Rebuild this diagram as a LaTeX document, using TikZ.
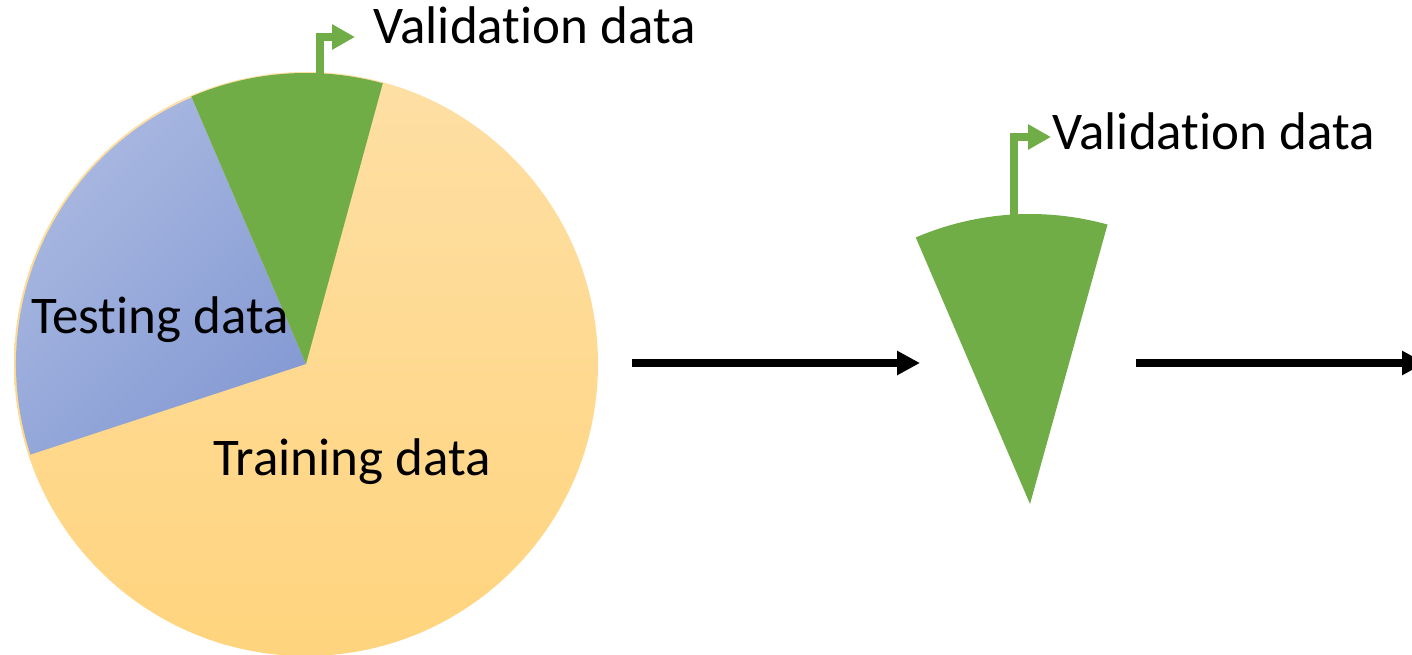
\documentclass[tikz,border=0pt]{standalone}
\usepackage{fontspec}
\setmainfont{Carlito}[Ligatures={NoCommon}]
\usetikzlibrary{arrows.meta}
\definecolor{vgreen}{HTML}{70AD47}
\definecolor{ylight}{HTML}{FEDFA4}
\definecolor{ydark}{HTML}{FFD47E}
\definecolor{blight}{HTML}{ACBBE2}
\definecolor{bdark}{HTML}{869BD4}
\tikzset{
  lbl/.style={inner sep=0pt, anchor=base west, font=\fontsize{53}{62}\selectfont, text=black},
  flag/.style={draw=vgreen, line width=8pt, -{Triangle[length=23pt,width=24pt]}},
  flow/.style={draw=black, line width=8pt, -{Triangle[length=23pt,width=23pt]}},
  slice/.style={draw=none}
}
\begin{document}
\begin{tikzpicture}[x=1pt,y=1pt]
\useasboundingbox (0,0) rectangle (1412,654);
\clip (0,0) rectangle (1412,654);
% pie
\coordinate (c1) at (306,290);
\shade[top color=ylight, bottom color=ydark] (c1) circle[radius=292];
\shade[top color=blight, bottom color=bdark, shading angle=45]
  (c1) -- ++(113.2:290) arc[start angle=113.2, end angle=198.2, radius=290] -- cycle;
\fill[vgreen] (c1) -- ++(74.7:291) arc[start angle=74.7, end angle=113.2, radius=291] -- cycle;
% second sector
\coordinate (c2) at (1030,150);
\fill[vgreen] (c2) -- ++(74.5:290) arc[start angle=74.5, end angle=113.2, radius=290] -- cycle;
% labels
\node[lbl] (val1) at (373,610) {Validation data};
\node[lbl] (val2) at (1052,504) {Validation data};
\node[lbl] (test) at (31,321) {Testing data};
\node[lbl] (train) at (213,179) {Training data};
% flags
\coordinate (f1s) at (320,578);
\coordinate (f1c) at (320,617);
\coordinate (f1e) at (355,617);
\draw[flag] (f1s) -- (f1c) -- (f1e);
\coordinate (f2s) at (1014,436);
\coordinate (f2c) at (1014,517);
\coordinate (f2e) at (1051,517);
\draw[flag] (f2s) -- (f2c) -- (f2e);
% flow arrows
\coordinate (a1s) at (632,291);
\coordinate (a1e) at (920,291);
\draw[flow] (a1s) -- (a1e);
\coordinate (a2s) at (1136,291);
\coordinate (a2e) at (1425,291);
\draw[flow] (a2s) -- (a2e);
\end{tikzpicture}
\end{document}
